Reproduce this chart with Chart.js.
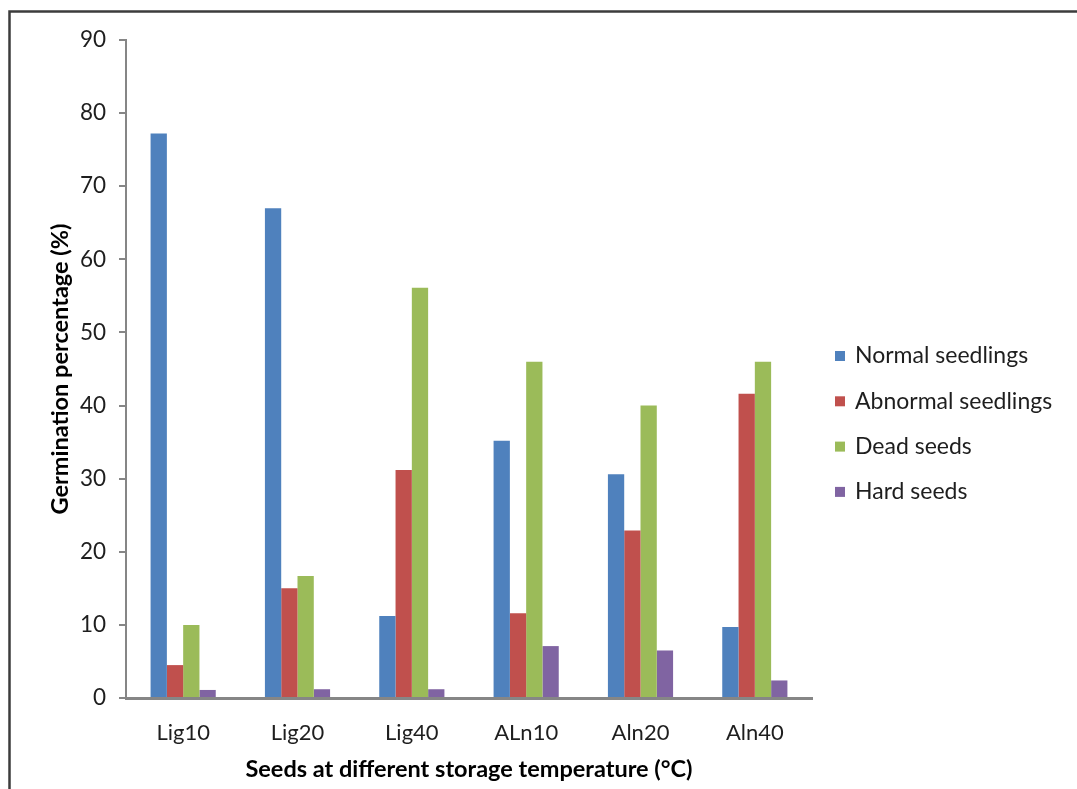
<!DOCTYPE html>
<html><head><meta charset="utf-8">
<script src="https://cdn.jsdelivr.net/npm/chart.js@4.4.1/dist/chart.umd.min.js"></script>
<style>html,body{margin:0;padding:0;background:#fff;overflow:hidden}#wrap{width:1077px;height:789px;position:relative}</style>
</head><body><div id="wrap"><canvas id="c" width="1077" height="789"></canvas></div>
<script>
const categories = ['Lig10', 'Lig20', 'Lig40', 'ALn10', 'Aln20', 'Aln40'];
const normalSeedlings = [77.2, 67.0, 11.2, 35.2, 30.6, 9.7];
const abnormalSeedlings = [4.5, 15.0, 31.2, 11.6, 22.9, 41.6];
const deadSeeds = [10.0, 16.7, 56.1, 46.0, 40.0, 46.0];
const hardSeeds = [1.1, 1.2, 1.2, 7.1, 6.5, 2.4];
const seriesNames = ['Normal seedlings', 'Abnormal seedlings', 'Dead seeds', 'Hard seeds'];
const seriesColors = ['#4F81BD', '#C0504D', '#9BBB59', '#8064A2'];
const yTicks = [0, 10, 20, 30, 40, 50, 60, 70, 80, 90];
const xTitle = 'Seeds at different storage temperature (\u00B0C)';
const yTitle = 'Germination percentage (%)';

const seriesValues = [normalSeedlings, abnormalSeedlings, deadSeeds, hardSeeds];

const framePlugin = {
  id: 'frame',
  beforeDraw(chart) {
    const ctx = chart.ctx;
    ctx.save();
    ctx.fillStyle = '#fff';
    ctx.fillRect(0, 0, chart.width, chart.height);
    ctx.strokeStyle = '#3c3c3c';
    ctx.lineWidth = 2.5;
    ctx.beginPath();
    ctx.moveTo(1077, 11.5);
    ctx.lineTo(9.5, 11.5);
    ctx.lineTo(9.5, 789);
    ctx.stroke();
    ctx.restore();
  }
};

const legendPlugin = {
  id: 'sideLegend',
  afterDraw(chart) {
    const ctx = chart.ctx;
    ctx.save();
    ctx.font = '23px Lato';
    ctx.textBaseline = 'middle';
    ctx.textAlign = 'left';
    chart.data.datasets.forEach((ds, i) => {
      const y = 356 + i * 45.3;
      ctx.fillStyle = ds.backgroundColor;
      ctx.fillRect(835, y - 5, 10, 10);
      ctx.fillStyle = '#1e1e1e';
      ctx.fillText(ds.label, 855, y);
    });
    ctx.restore();
  }
};

new Chart(document.getElementById('c'), {
  type: 'bar',
  data: {
    labels: categories,
    datasets: seriesNames.map((name, i) => ({
      label: name,
      data: seriesValues[i],
      backgroundColor: seriesColors[i],
      borderWidth: 0,
      categoryPercentage: 0.57,
      barPercentage: 1.0
    }))
  },
  options: {
    responsive: false,
    animation: false,
    devicePixelRatio: 1,
    layout: { padding: { left: 0, top: 40, right: 265, bottom: 0 } },
    plugins: { legend: { display: false }, tooltip: { enabled: false } },
    scales: {
      x: {
        grid: { display: false, drawTicks: false, tickLength: 0 },
        border: { display: true, color: '#868686', width: 3 },
        ticks: { color: '#1e1e1e', font: { family: 'Lato', size: 22 }, padding: 22, maxRotation: 0 },
        title: { display: true, text: xTitle, color: '#000', font: { family: 'Lato', size: 23.5, weight: 'bold' }, padding: { top: 0, bottom: 5 } },
        afterFit(s) { s.height = 91; }
      },
      y: {
        min: 0, max: 90,
        afterBuildTicks(s) { s.ticks = yTicks.map(v => ({ value: v })); },
        grid: { drawOnChartArea: false, drawTicks: true, tickLength: 7, color: '#868686', lineWidth: 2 },
        border: { display: true, color: '#868686', width: 2 },
        ticks: { color: '#1e1e1e', font: { family: 'Lato', size: 22.5 }, padding: 13 },
        title: { display: true, text: yTitle, color: '#000', font: { family: 'Lato', size: 23.5, weight: 'bold' }, padding: { top: 46, bottom: 0 } },
        afterFit(s) { s.width = 126; }
      }
    }
  },
  plugins: [framePlugin, legendPlugin]
});
</script>
</body></html>
